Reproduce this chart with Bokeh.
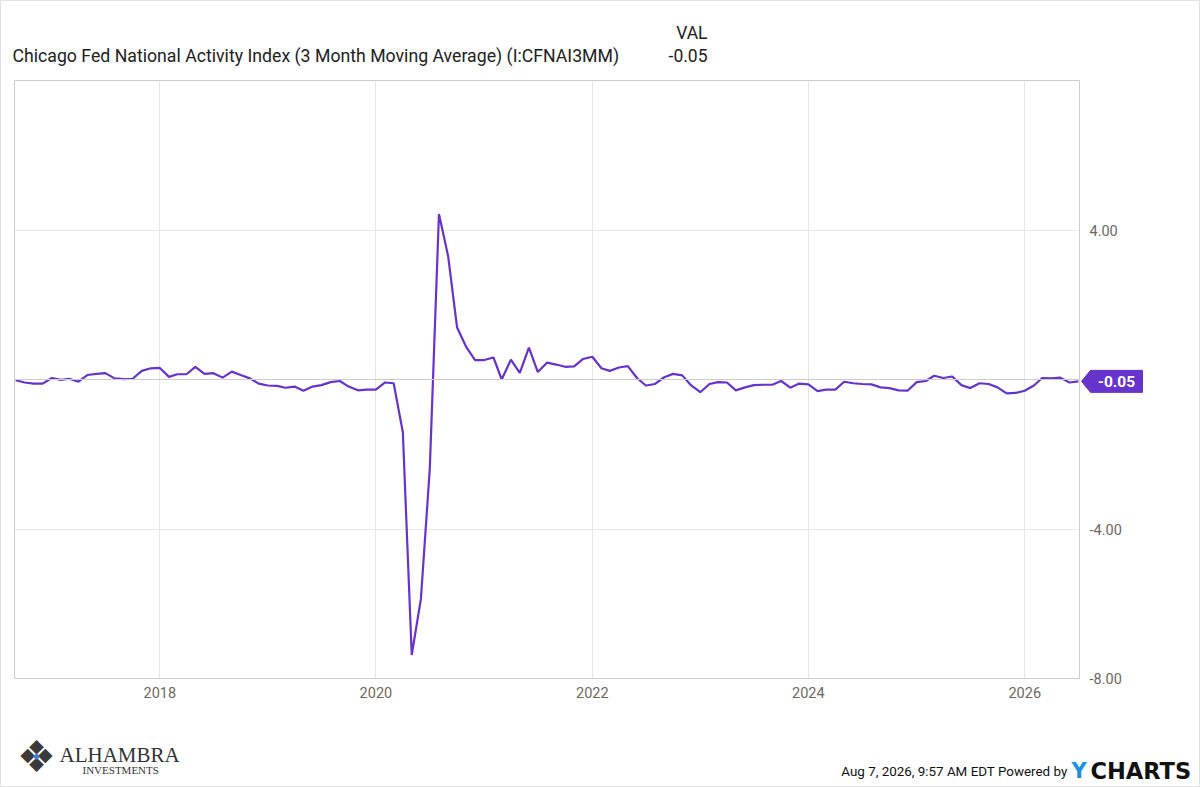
import pandas as pd
from bokeh.plotting import figure
from bokeh.models import (Span, FixedTicker, DatetimeTickFormatter, Range1d,
                          NumeralTickFormatter, ColumnDataSource, GridBox)
from bokeh.core.properties import value
from bokeh.embed import file_html
from bokeh.resources import INLINE

# ---------------- data ----------------
start_month = "2016-09-01"
cfnai3mm = [
    # 2016 Sep-Dec
    -0.02, -0.08, -0.11, -0.11,
    # 2017
    0.04, -0.01, 0.02, -0.06, 0.12, 0.15, 0.17, 0.03, 0.01, 0.02, 0.23, 0.30,
    # 2018
    0.31, 0.07, 0.14, 0.14, 0.34, 0.15, 0.17, 0.05, 0.21, 0.12, 0.03, -0.11,
    # 2019
    -0.16, -0.17, -0.22, -0.19, -0.30, -0.19, -0.15, -0.07, -0.04, -0.19, -0.29, -0.27,
    # 2020
    -0.27, -0.08, -0.10, -1.41, -7.37, -5.87, -2.39, 4.43, 3.30, 1.40, 0.87, 0.52,
    # 2021
    0.52, 0.59, 0.00, 0.53, 0.18, 0.85, 0.20, 0.45, 0.40, 0.34, 0.35, 0.55,
    # 2022
    0.61, 0.30, 0.23, 0.32, 0.36, 0.04, -0.16, -0.12, 0.06, 0.15, 0.11, -0.16,
    # 2023
    -0.34, -0.12, -0.07, -0.08, -0.29, -0.21, -0.15, -0.14, -0.14, -0.04, -0.22, -0.11,
    # 2024
    -0.13, -0.31, -0.27, -0.27, -0.06, -0.10, -0.12, -0.13, -0.21, -0.23, -0.29, -0.30,
    # 2025
    -0.07, -0.04, 0.10, 0.04, 0.08, -0.15, -0.23, -0.10, -0.12, -0.21, -0.37, -0.36,
    # 2026 Jan-Jul
    -0.30, -0.16, 0.04, 0.03, 0.05, -0.08, -0.05,
]
tick_years = [2018, 2020, 2022, 2024, 2026]
y_ticks = [-8, -4, 0, 4]
series_name = "Chicago Fed National Activity Index (3 Month Moving Average) (I:CFNAI3MM)"
col_header = "VAL"
last_label = "-0.05"
footer_text = "Aug 7, 2026, 9:57 AM EDT Powered by"

dates = pd.date_range(start_month, periods=len(cfnai3mm), freq="MS")
src = ColumnDataSource(dict(date=dates, val=cfnai3mm))

# ---------------- layout ----------------
W, H = 1200, 787
ML, MR, MT, MB = 14, 121, 80, 109
FW, FH = W - ML - MR, H - MT - MB
Y0, Y1 = -8.0, 8.0
LINE_COLOR = "#6633cc"
LABEL_COLOR = "#6d6862"

p = figure(width=W, height=H, output_backend="svg", toolbar_location=None,
           x_axis_type="datetime", y_axis_location="right",
           x_range=Range1d(pd.Timestamp("2016-08-28"), pd.Timestamp("2026-07-05")),
           y_range=Range1d(Y0, Y1),
           min_border_left=ML, min_border_right=MR,
           min_border_top=MT, min_border_bottom=MB)
p.frame_align = False
p.background_fill_color = "white"
p.border_fill_color = "white"
p.outline_line_color = "#cccccc"
p.outline_line_width = 1

xt = [pd.Timestamp(f"{y}-01-01").value // 10**6 for y in tick_years]
p.xaxis.ticker = FixedTicker(ticks=xt)
p.xaxis.formatter = DatetimeTickFormatter(years="%Y", months="%Y", days="%Y")
p.yaxis.ticker = FixedTicker(ticks=y_ticks)
p.yaxis.formatter = NumeralTickFormatter(format="0.00")
for ax in (p.xaxis[0], p.yaxis[0]):
    ax.axis_line_color = None
    ax.major_tick_line_color = None
    ax.minor_tick_line_color = None
    ax.major_tick_out = 0
    ax.major_tick_in = 0
    ax.major_label_text_font = "Roboto"
    ax.major_label_text_font_size = "14.5px"
    ax.major_label_text_color = LABEL_COLOR
p.xaxis.major_label_standoff = 8
p.yaxis.major_label_standoff = 10

p.xgrid.ticker = FixedTicker(ticks=xt)
p.ygrid.ticker = FixedTicker(ticks=y_ticks)
p.grid.grid_line_color = "#e6e6e6"
p.grid.grid_line_width = 1
p.add_layout(Span(location=0, dimension="width", line_color="#cccccc", line_width=1))

p.line("date", "val", source=src, line_color=LINE_COLOR, line_width=2.2)

# ---------------- overlay canvas for texts outside the plot frame ----------------
ov = figure(width=W, height=H, output_backend="svg", toolbar_location=None,
            x_range=Range1d(0, W), y_range=Range1d(H, 0),
            x_axis_type=None, y_axis_type=None, min_border=0)
ov.frame_align = False
ov.grid.visible = False
ov.outline_line_color = "#e0e0e0"
ov.outline_line_width = 1
ov.background_fill_alpha = 0
ov.border_fill_alpha = 0


def txt(x, y, t, size, color="#222222", font="Roboto", align="left", style="normal"):
    ov.text(x=[x], y=[y], text=[t], text_font=value(font), text_font_size=size,
            text_color=color, text_align=align, text_baseline="middle",
            text_font_style=style)


# header
txt(12, 55, series_name, "17.7px")
txt(707, 32, col_header, "17.5px", align="right")
txt(707, 55, last_label, "17.5px", align="right")

# last-value tag at the right edge of the frame
v = cfnai3mm[-1]
sy = MT + (Y1 - v) / (Y1 - Y0) * FH
fr = ML + FW
ov.patch(x=[fr + 2, fr + 11, fr + 63, fr + 63, fr + 11],
         y=[sy, sy - 11, sy - 11, sy + 11, sy + 11],
         fill_color=LINE_COLOR, line_color=LINE_COLOR, line_width=1)
txt(fr + 37, sy + 0.5, last_label, "15.5px", color="white", align="center", style="bold")

# footer: logo
txt(36, 756, "❖", "44px", color="#3a3a3a", font="DejaVu Sans", align="center")
txt(36, 755, "◆", "9px", color="#3f7fd0", font="DejaVu Sans", align="center")
txt(59, 754, "ALHAMBRA", "21px", color="#333333", font="Liberation Serif")
txt(82, 769, "INVESTMENTS", "11px", color="#333333", font="Liberation Serif")

# footer: timestamp and brand
txt(1067, 771, footer_text, "13.4px", color="#111111", align="right")
txt(1071, 770, "Y", "21px", color="#1a8fe3", font="DejaVu Sans", style="bold")
txt(1090, 770, "CHARTS", "22.5px", color="#111111", font="DejaVu Sans", style="bold")

layout = GridBox(children=[(p, 0, 0), (ov, 0, 0)])
open("out.html", "w").write(file_html(layout, INLINE))
